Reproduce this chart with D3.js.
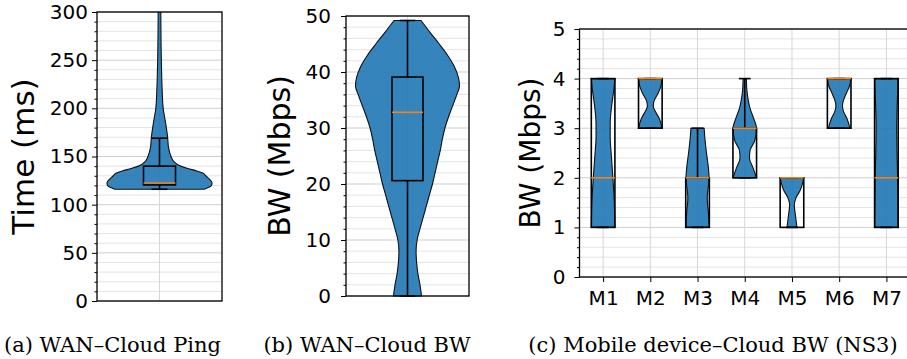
<html>
  <head>
    <style>
      body { margin: 0; background: #fff; }
      text { fill: #000; }
    </style>
  </head>
  <body>
    <script src="https://d3js.org/d3.v7.min.js"></script>
    <script>
    // (a) ping box stats: whisker low, q1, median, q3, whisker high
    var pingBox = [116, 120.5, 122.5, 140, 169];
    // violin outline: value -> half width (fraction of widest)
    var pingVals   = [116, 118, 120, 122, 124, 126, 128, 130, 132.5, 135, 137.5, 140, 145, 150, 160, 170, 180, 190, 200, 220, 250, 300];
    var pingWidths = [0.85, 0.94, 0.99, 1.0, 0.99, 0.96, 0.92, 0.88, 0.83, 0.71, 0.54, 0.40, 0.27, 0.22, 0.17, 0.155, 0.13, 0.10, 0.07, 0.05, 0.035, 0.025];
    var pingTicks  = [0, 50, 100, 150, 200, 250, 300];

    // (b) WAN-Cloud BW
    var bwBox    = [0, 20.6, 32.8, 39.1, 49.2];
    var bwVals   = [0, 2, 4, 6, 8, 10, 12, 14, 16, 18, 20, 22, 24, 26, 28, 30, 32, 34, 36, 37.5, 39, 41, 43, 45, 47, 49.2];
    var bwWidths = [0.27, 0.24, 0.2, 0.175, 0.165, 0.185, 0.24, 0.3, 0.36, 0.42, 0.48, 0.53, 0.58, 0.63, 0.67, 0.72, 0.79, 0.87, 0.95, 1.0, 0.98, 0.9, 0.77, 0.61, 0.44, 0.26];
    var bwTicks  = [0, 10, 20, 30, 40, 50];

    // (c) mobile devices
    var devices = ["M1", "M2", "M3", "M4", "M5", "M6", "M7"];
    var devLow  = [1, 3, 1, 2, 1, 3, 1];
    var devQ1   = [1, 3, 1, 2, 1, 3, 1];
    var devMed  = [2, 4, 2, 3, 2, 4, 2];
    var devQ3   = [4, 4, 2, 3, 2, 4, 4];
    var devHigh = [4, 4, 3, 4, 2, 4, 4];
    var devViolinVals = [
      [1, 1.5, 2, 2.5, 2.8, 3.1, 3.5, 3.8, 4],
      [3, 3.2, 3.35, 3.45, 3.55, 3.7, 3.85, 4],
      [1, 1.3, 1.6, 1.9, 2, 2.2, 2.5, 2.8, 3],
      [2, 2.2, 2.4, 2.55, 2.75, 3, 3.2, 3.4, 3.6, 3.8, 4],
      [1, 1.2, 1.45, 1.6, 1.75, 2],
      [3, 3.2, 3.35, 3.45, 3.55, 3.7, 3.85, 4],
      [1, 1.5, 2, 2.5, 3, 3.5, 3.8, 4]
    ];
    var devViolinWidths = [
      [1.0, 0.95, 0.83, 0.68, 0.6, 0.6, 0.75, 0.92, 1.0],
      [1.0, 0.75, 0.4, 0.25, 0.32, 0.65, 0.9, 1.0],
      [1.0, 0.92, 0.82, 0.95, 0.98, 0.92, 0.76, 0.62, 0.56],
      [1.0, 0.7, 0.4, 0.45, 0.85, 1.0, 0.75, 0.45, 0.27, 0.17, 0.14],
      [0.42, 0.32, 0.2, 0.35, 0.7, 1.0],
      [0.92, 0.65, 0.35, 0.28, 0.35, 0.6, 0.88, 1.0],
      [1.0, 0.98, 0.95, 0.9, 0.87, 0.92, 0.97, 1.0]
    ];
    var devTicks = [0, 1, 2, 3, 4, 5];

    var width = 907, height = 359;
    var blue = "#1f77b4", orange = "#ff7f0e";
    var tickFont = 20;

    var svg = d3.select("body").append("svg")
        .attr("width", width)
        .attr("height", height);

    // shared frame: grid, ticks, y label
    function frame(x, y, majors, minorStep, gridX, ylabel, labelX, labelSize, pad) {
      var g = svg.append("g");
      var x0 = x.range()[0], x1 = x.range()[1];
      var y0 = y.range()[0], y1 = y.range()[1];
      var dom = y.domain();
      var minors = d3.range(dom[0], dom[1] + minorStep / 2, minorStep)
          .map(function(v) { return +v.toFixed(4); })
          .filter(function(v) { return majors.indexOf(v) < 0; });

      g.selectAll(".gmin").data(minors).enter().append("line")
          .attr("x1", x0).attr("x2", x1)
          .attr("y1", function(d) { return y(d); }).attr("y2", function(d) { return y(d); })
          .attr("stroke", "#e4e4e4").attr("stroke-width", 1);
      g.selectAll(".gmaj").data(majors).enter().append("line")
          .attr("x1", x0).attr("x2", x1)
          .attr("y1", function(d) { return y(d); }).attr("y2", function(d) { return y(d); })
          .attr("stroke", "#cfcfcf").attr("stroke-width", 1);
      g.selectAll(".gx").data(gridX).enter().append("line")
          .attr("x1", function(d) { return x(d); }).attr("x2", function(d) { return x(d); })
          .attr("y1", y0).attr("y2", y1)
          .attr("stroke", "#d6d6d6").attr("stroke-width", 1);

      var minorAxis = svg.append("g")
          .attr("transform", "translate(" + x0 + ",0)")
          .call(d3.axisLeft(y).tickValues(minors).tickSize(2.5).tickFormat(""));
      minorAxis.select(".domain").remove();

      var majorAxis = svg.append("g")
          .attr("transform", "translate(" + x0 + ",0)")
          .call(d3.axisLeft(y).tickValues(majors).tickSize(5).tickPadding(pad).tickFormat(d3.format("d")));
      majorAxis.select(".domain").remove();
      majorAxis.selectAll("text")
          .style("font-family", "DejaVu Sans")
          .style("font-size", tickFont + "px")
          .attr("fill", "#000");
      svg.selectAll(".tick line").attr("stroke", "#000");

      svg.append("text")
          .attr("transform", "translate(" + labelX + "," + ((y0 + y1) / 2) + ") rotate(-90)")
          .attr("text-anchor", "middle")
          .style("font-family", "DejaVu Sans")
          .style("font-size", labelSize + "px")
          .text(ylabel);
      return g;
    }

    function spines(x, y) {
      var x0 = x.range()[0], x1 = x.range()[1];
      svg.append("rect")
          .attr("x", x0).attr("y", y.range()[1])
          .attr("width", x1 - x0).attr("height", y.range()[0] - y.range()[1])
          .attr("fill", "none").attr("stroke", "#000").attr("stroke-width", 1.3);
    }

    function violin(g, x, y, pos, vals, widths, halfMax, clipId) {
      var pts = vals.map(function(v, i) { return [v, widths[i]]; });
      var area = d3.area()
          .curve(d3.curveMonotoneY)
          .y(function(d) { return y(d[0]); })
          .x0(function(d) { return x(pos) - d[1] * halfMax; })
          .x1(function(d) { return x(pos) + d[1] * halfMax; });
      g.append("path")
          .datum(pts)
          .attr("d", area)
          .attr("clip-path", clipId ? "url(#" + clipId + ")" : null)
          .attr("fill", blue).attr("fill-opacity", 0.9)
          .attr("stroke", "#111").attr("stroke-width", 1.1);
    }

    function box(g, x, y, pos, s, halfBox) {
      var cx = x(pos);
      var lw = 1.6;
      // whiskers
      g.append("line").attr("x1", cx).attr("x2", cx).attr("y1", y(s[0])).attr("y2", y(s[1]))
          .attr("stroke", "#000").attr("stroke-width", lw);
      g.append("line").attr("x1", cx).attr("x2", cx).attr("y1", y(s[3])).attr("y2", y(s[4]))
          .attr("stroke", "#000").attr("stroke-width", lw);
      [s[0], s[4]].forEach(function(v) {
        g.append("line").attr("x1", cx - halfBox / 2).attr("x2", cx + halfBox / 2)
            .attr("y1", y(v)).attr("y2", y(v))
            .attr("stroke", "#000").attr("stroke-width", lw);
      });
      g.append("rect")
          .attr("x", cx - halfBox).attr("y", y(s[3]))
          .attr("width", 2 * halfBox).attr("height", Math.max(0, y(s[1]) - y(s[3])))
          .attr("fill", "none").attr("stroke", "#000").attr("stroke-width", lw);
      g.append("line").attr("x1", cx - halfBox).attr("x2", cx + halfBox)
          .attr("y1", y(s[2])).attr("y2", y(s[2]))
          .attr("stroke", orange).attr("stroke-width", lw);
    }

    function caption(cx, txt) {
      svg.append("text")
          .attr("x", cx).attr("y", 352)
          .attr("text-anchor", "middle")
          .style("font-family", "DejaVu Serif")
          .style("font-size", "21px")
          .text(txt);
    }

    // ---- (a) ----
    var xa = d3.scaleLinear().domain([0.5, 1.5]).range([97, 222]);
    var ya = d3.scaleLinear().domain([0, 300]).range([301, 12]);
    var ga = frame(xa, ya, pingTicks, 10, [1], "Time (ms)", 34, 31, 4);
    svg.append("clipPath").attr("id", "clipA").append("rect")
        .attr("x", 97).attr("y", 12).attr("width", 125).attr("height", 289);
    violin(ga, xa, ya, 1, pingVals, pingWidths, 52.5, "clipA");
    box(ga, xa, ya, 1, pingBox, 16);
    spines(xa, ya);
    caption(112.5, "(a) WAN\u2013Cloud Ping");

    // ---- (b) ----
    var xb = d3.scaleLinear().domain([0.5, 1.5]).range([346, 469]);
    var yb = d3.scaleLinear().domain([0, 50]).range([296, 16]);
    var gb = frame(xb, yb, bwTicks, 2, [1], "BW (Mbps)", 290, 30, 10);
    violin(gb, xb, yb, 1, bwVals, bwWidths, 52, null);
    box(gb, xb, yb, 1, bwBox, 15.5);
    spines(xb, yb);
    caption(367, "(b) WAN\u2013Cloud BW");

    // ---- (c) ----
    var xc = d3.scaleLinear().domain([0.5, 7.5]).range([579.5, 910]);
    var yc = d3.scaleLinear().domain([0, 5]).range([277, 29]);
    var gc = frame(xc, yc, devTicks, 0.2, d3.range(1, 8), "BW (Mbps)", 540, 28, 9);
    var step = xc(2) - xc(1);
    devices.forEach(function(name, i) {
      violin(gc, xc, yc, i + 1, devViolinVals[i], devViolinWidths[i], step * 0.25, null);
    });
    devices.forEach(function(name, i) {
      box(gc, xc, yc, i + 1, [devLow[i], devQ1[i], devMed[i], devQ3[i], devHigh[i]], step * 0.25);
    });
    var xAxis = svg.append("g")
        .attr("transform", "translate(0,277)")
        .call(d3.axisBottom(xc).tickValues(d3.range(1, 8)).tickSize(5).tickPadding(9)
          .tickFormat(function(d) { return devices[d - 1]; }));
    xAxis.select(".domain").remove();
    xAxis.selectAll("text")
        .style("font-family", "DejaVu Sans")
        .style("font-size", tickFont + "px")
        .attr("fill", "#000");
    xAxis.selectAll("line").attr("stroke", "#000");
    spines(xc, yc);
    caption(713, "(c) Mobile device\u2013Cloud BW (NS3)");
    </script>
  </body>
</html>
